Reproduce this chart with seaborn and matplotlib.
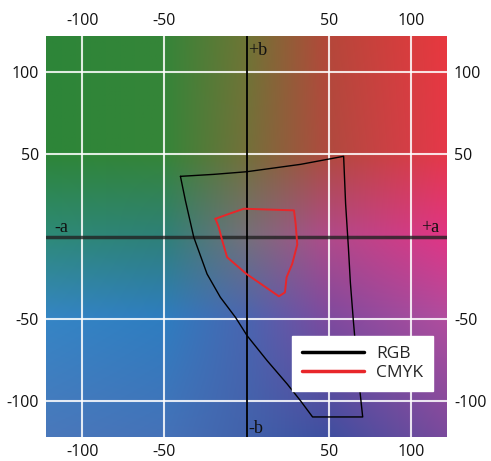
import numpy as np
import pandas as pd
import matplotlib
matplotlib.use("Agg")
import matplotlib.pyplot as plt
import seaborn as sns
from matplotlib.colors import to_rgb

# Gamut outlines in the a*-b* plane
rgb_a = [-40.2, -37.2, -32.1, -24.0, -15.9, -6.7, 0.4, 12.6, 24.8, 32.9, 40.2,
         70.7, 67.5, 65.0, 63.2, 62.0, 60.3, 59.1, 32.9, 0.0, -20.0, -40.2]
rgb_b = [36.6, 22.0, -0.4, -22.8, -37.0, -49.2, -60.4, -75.6, -89.8, -100.0, -109.8,
         -109.8, -80.0, -51.0, -28.0, -6.7, 20.0, 48.8, 43.9, 39.4, 37.8, 36.6]

cmyk_a = [-18.9, -10.0, -1.6, 28.9, 29.9, 30.9, 27.8, 24.4, 23.4, 19.7, 0.0,
          -11.8, -14.8, -16.9, -18.9]
cmyk_b = [10.8, 14.0, 16.9, 15.9, 7.7, -4.9, -16.7, -24.8, -34.0, -36.4, -22.8,
          -12.6, -2.4, 5.7, 10.8]

# Background colours sampled on a coarse a/b grid (rows top -> bottom)
bg_a = [-122, -50, 0, 50, 122]
bg_b = [122, 50, 0, -50, -122]
bg_colors = [
    ["#2d8538", "#358539", "#6e7535", "#b5473a", "#e8383f"],
    ["#2d8538", "#358538", "#73703a", "#b04a3f", "#e5384a"],
    ["#2e8a78", "#2e8078", "#75707a", "#b04a8a", "#e03585"],
    ["#3585c5", "#2e7dc0", "#4a65b0", "#7e4a9e", "#b04d9e"],
    ["#4a78bb", "#4572b8", "#4262ab", "#3f4fa0", "#7a4a9c"],
]

ticks = [-100, -50, 50, 100]
lim = 122

sns.set_theme(style="white")
plt.rcParams["font.family"] = ["Open Sans", "DejaVu Sans"]
plt.rcParams["axes.unicode_minus"] = False

fig = plt.figure(figsize=(4.91, 4.61), dpi=100)
ax = fig.add_axes([46 / 491, 24 / 461, 401 / 491, 401 / 461])

# smooth background from the sampled grid
grid = np.array([[to_rgb(c) for c in row] for row in bg_colors])
fine = np.linspace(-lim, lim, 300)
rows = np.array([[np.interp(fine, bg_a, grid[i, :, k]) for k in range(3)]
                 for i in range(len(bg_b))])  # (nb, 3, nfine)
img = np.empty((len(fine), len(fine), 3))
bb = np.array(bg_b)[::-1]
for k in range(3):
    for j in range(len(fine)):
        img[:, j, k] = np.interp(fine[::-1], bb, rows[::-1, k, j])
ax.imshow(img, extent=[-lim, lim, -lim, lim], origin="upper", aspect="auto", zorder=0)

# grid lines
for t in ticks:
    ax.axvline(t, color="white", lw=1.5, alpha=0.85, zorder=1)
    ax.axhline(t, color="white", lw=1.5, alpha=0.85, zorder=1)
ax.axhline(0, color="#222222", lw=2.5, alpha=0.8, zorder=2)
ax.axvline(0, color="black", lw=1.3, zorder=2)

df_rgb = pd.DataFrame({"a": rgb_a, "b": rgb_b})
df_cmyk = pd.DataFrame({"a": cmyk_a, "b": cmyk_b})
sns.lineplot(data=df_rgb, x="a", y="b", sort=False, estimator=None, color="black",
             lw=1.0, label="RGB", ax=ax, zorder=3)
sns.lineplot(data=df_cmyk, x="a", y="b", sort=False, estimator=None, color="#e8262a",
             lw=1.4, label="CMYK", ax=ax, zorder=3)

# axis-end labels
serif = dict(family="Liberation Serif", fontsize=13, color="#111111", zorder=4)
ax.text(1.0, 113, "+b", ha="left", va="center", **serif)
ax.text(1.0, -117, "-b", ha="left", va="center", **serif)
ax.text(-117, 5.5, "-a", ha="left", va="center", **serif)
ax.text(106, 5.5, "+a", ha="left", va="center", **serif)

ax.set_xlim(-lim, lim)
ax.set_ylim(-lim, lim)
ax.set_xticks(ticks)
ax.set_yticks(ticks)
ax.tick_params(labeltop=True, labelright=True, length=0, labelsize=11.5,
               pad=5, colors="#111111")
ax.set_xlabel("")
ax.set_ylabel("")
for s in ax.spines.values():
    s.set_visible(False)

leg = ax.legend(loc="lower right", bbox_to_anchor=(0.965, 0.115), frameon=True,
                fancybox=False, framealpha=1, edgecolor="white", fontsize=12.5,
                handlelength=3.6, handletextpad=0.7, borderpad=0.55, labelspacing=0.2,
                borderaxespad=0)
for h in leg.get_lines():
    h.set_linewidth(2.5)
leg.set_zorder(5)

fig.savefig("out.png", dpi=100)
